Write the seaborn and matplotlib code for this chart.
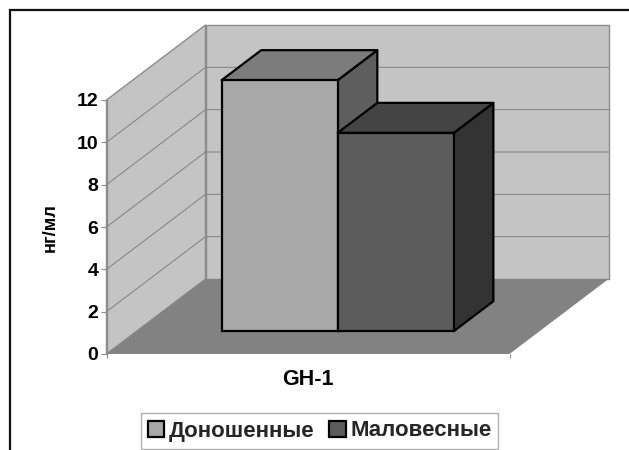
import matplotlib
matplotlib.use("Agg")
import matplotlib.pyplot as plt
import seaborn as sns
import pandas as pd
from matplotlib.patches import Polygon, Rectangle
from matplotlib.transforms import ScaledTranslation

categories = ["GH-1"]
series_names = ["Доношенные", "Маловесные"]
series_values = [11.86, 9.37]
y_ticks = [0, 2, 4, 6, 8, 10, 12]
y_label = "нг/мл"

front_colors = ["#a8a8a8", "#5c5c5c"]
top_colors = ["#7c7c7c", "#444444"]
side_colors = ["#5e5e5e", "#333333"]
wall_color = "#c4c4c4"
floor_color = "#828282"
edge_gray = "#8c8c8c"

W, H = 629, 450
sns.set_theme(style="white")
plt.rcParams["font.family"] = ["Liberation Sans", "DejaVu Sans"]

fig = plt.figure(figsize=(W / 100, H / 100), dpi=100)
ax = fig.add_axes([106.5 / W, 1 - 354 / H, 403 / W, 254 / H])
ax.patch.set_alpha(0)

df = pd.DataFrame({"cat": categories * len(series_names),
                   "series": series_names,
                   "value": series_values})
sns.barplot(data=df, x="cat", y="value", hue="series", hue_order=series_names,
            palette=front_colors, width=0.576, gap=0, saturation=1,
            edgecolor="black", linewidth=1.6, ax=ax, legend=True)
ax.set_xlim(-0.5, 0.5)
ax.set_ylim(0, 12)

# depth of the 3-D box, expressed in data units
DX = 99 / 403
DY = 75 / (254 / 12)
BAR_FRONT, BAR_BACK = 0.30, 0.70


def proj(x, y, d):
    return (x + d * DX, y + d * DY)


def face(points, color, z, edge=None, lw=0.0):
    ax.add_patch(Polygon(points, closed=True, facecolor=color,
                         edgecolor=edge if edge else color, linewidth=lw,
                         zorder=z, clip_on=False, joinstyle="round"))


x0, x1 = ax.get_xlim()
ymax = max(y_ticks)
face([proj(x0, 0, 1), proj(x1, 0, 1), proj(x1, ymax, 1), proj(x0, ymax, 1)],
     wall_color, 1, edge_gray, 1.0)
face([proj(x0, 0, 0), proj(x0, 0, 1), proj(x0, ymax, 1), proj(x0, ymax, 0)],
     wall_color, 1, edge_gray, 1.0)
face([proj(x0, 0, 0), proj(x1, 0, 0), proj(x1, 0, 1), proj(x0, 0, 1)],
     floor_color, 1.5)

for t in y_ticks[1:-1]:
    pts = [proj(x0, t, 0), proj(x0, t, 1), proj(x1, t, 1)]
    ax.plot(*zip(*pts), color="#808080", lw=0.7, zorder=2, clip_on=False)

# solid bars: the front is seaborn's bar, shifted into the box; the rest follows it
shift = ScaledTranslation(BAR_FRONT * 99 / 100, BAR_FRONT * 76 / 100, fig.dpi_scale_trans)
bars = [p for p in ax.patches if isinstance(p, Rectangle) and p.get_height() > 0][:len(series_names)]
depth = BAR_BACK - BAR_FRONT
for i, bar in enumerate(bars):
    bx, bw, bh = bar.get_x(), bar.get_width(), bar.get_height()
    by = BAR_FRONT * 76 / (254 / 12)
    fx = BAR_FRONT * DX
    z = 5 + i
    top = [(bx + fx, by + bh), (bx + bw + fx, by + bh),
           (bx + bw + fx + depth * DX, by + bh + depth * DY),
           (bx + fx + depth * DX, by + bh + depth * DY)]
    side = [(bx + bw + fx, by), (bx + bw + fx + depth * DX, by + depth * DY),
            (bx + bw + fx + depth * DX, by + bh + depth * DY), (bx + bw + fx, by + bh)]
    face(side, side_colors[i], z, "black", 1.6)
    face(top, top_colors[i], z, "black", 1.6)
    bar.set_transform(ax.transData + shift)
    bar.set_zorder(z + 0.5)
    bar.set_clip_on(False)

# axes furniture
for s in ["top", "right", "bottom"]:
    ax.spines[s].set_visible(False)
ax.spines["left"].set_color(edge_gray)
ax.spines["left"].set_linewidth(1.0)
ax.spines["left"].set_zorder(3)
ax.set_yticks(y_ticks)
ax.set_yticklabels([str(t) for t in y_ticks], fontsize=14, fontweight="bold", color="black")
ax.tick_params(axis="y", left=True, length=4, width=0.8, color=edge_gray, pad=2)
ax.set_xticks([0])
ax.set_xticklabels(categories, fontsize=15.5, fontweight="bold", color="black")
ax.tick_params(axis="x", bottom=False, pad=5)
ax.set_xticks([x0, x1], minor=True)
ax.tick_params(axis="x", which="minor", bottom=True, length=3, width=0.8, color=edge_gray)
ax.set_xlabel("")
ax.set_ylabel(y_label, fontsize=13.2, fontweight="bold", color="black", labelpad=0)
ax.yaxis.set_label_coords((59 - 106.5) / 403, (354 - 228) / 254)

# legend
handles, labels = ax.get_legend_handles_labels()
ax.get_legend().remove()
leg = fig.legend(handles, labels, ncol=2, loc="center", frameon=True,
                 bbox_to_anchor=(319.5 / W, 1 - 431 / H), fancybox=False,
                 prop={"weight": "bold", "size": 16},
                 handlelength=0.75, handleheight=0.7, handletextpad=0.2,
                 columnspacing=0.65, borderpad=0.32, borderaxespad=0)
leg.get_frame().set_edgecolor("#b0b0b0")
leg.get_frame().set_linewidth(1.0)
leg.get_frame().set_alpha(1)
for h in leg.legend_handles:
    h.set_edgecolor("black")
    h.set_linewidth(1.6)

# chart-area frame, running off the right and bottom of the picture
fig.add_artist(Rectangle((9.5 / W, -0.2), 1.2, 1.2 - 10 / H, transform=fig.transFigure,
                         fill=False, edgecolor="#111111", linewidth=1.6))

fig.savefig("out.png", dpi=100)
